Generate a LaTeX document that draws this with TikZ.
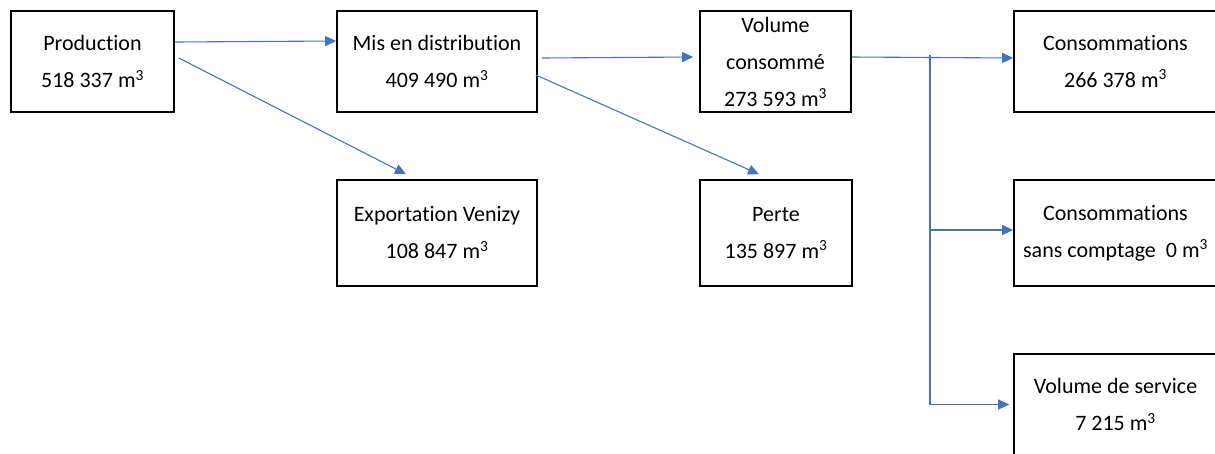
\documentclass[tikz,border=0pt]{standalone}
\usepackage{fontspec}
\setmainfont[Ligatures=NoCommon]{Carlito}
\usetikzlibrary{arrows.meta}
\definecolor{flecheblue}{HTML}{4472C4}
\tikzset{
  boite/.style={draw, line width=1.6pt, inner sep=0pt, align=center,
    font=\fontsize{22}{37}\selectfont},
  fleche/.style={draw=flecheblue, line width=1.1pt,
    -{Triangle[length=11pt,width=10pt]}}
}
\newcommand{\mcube}{m\textsuperscript{3}}

\begin{document}
\begin{tikzpicture}[x=1pt, y=-1pt]
            \useasboundingbox (0,0) rectangle (1215,453);
            \clip (0,0) rectangle (1215,453);

            \node[boite, minimum width=163pt, minimum height=101pt] (prod) at (92.5, 61.5) {Production\\518 337 \mcube};
            \node[boite, minimum width=200pt, minimum height=101pt] (mis) at (437, 61.5) {Mis en distribution\\409 490 \mcube};
            \node[boite, minimum width=151pt, minimum height=101pt] (vol) at (775.5, 61.5) {Volume\\consommé\\273 593 \mcube};
            \node[boite, minimum width=203pt, minimum height=101pt] (cons) at (1115.5, 61.5) {Consommations\\266 378 \mcube};

            \node[boite, minimum width=200pt, minimum height=106pt] (export) at (437, 233) {Exportation Venizy\\108 847 \mcube};
            \node[boite, minimum width=152pt, minimum height=106pt] (perte) at (776, 233) {Perte\\135 897 \mcube};
            \node[boite, minimum width=203pt, minimum height=106pt] (sans) at (1115.5, 233) {Consommations\\sans comptage~~0 \mcube};
            \node[boite, minimum width=203pt, minimum height=101pt] (serv) at (1115.5, 404.5) {Volume de service\\7 215 \mcube};

            \draw[fleche] ([yshift=19.5pt]prod.east) -- ([yshift=20.5pt]mis.west);
            \draw[fleche] ([xshift=4pt, yshift=3.5pt]prod.east) -- ([xshift=-31pt, yshift=5pt]export.north);
            \draw[fleche] ([xshift=4pt, yshift=3.5pt]mis.east) -- ([xshift=-6pt, yshift=4.5pt]vol.west);
            \draw[fleche] ([xshift=-2pt, yshift=-13.5pt]mis.east) -- ([xshift=-17pt, yshift=5pt]perte.north);
            \draw[fleche] ([yshift=4.5pt]vol.east) -- ([yshift=3.5pt]cons.west);

            \coordinate (split) at (930, 55);
            \draw[fleche] (split) |- ([yshift=3pt]sans.west);
            \draw[fleche] (split) |- ([xshift=-4pt]serv.west);
        \end{tikzpicture}
\end{document}
